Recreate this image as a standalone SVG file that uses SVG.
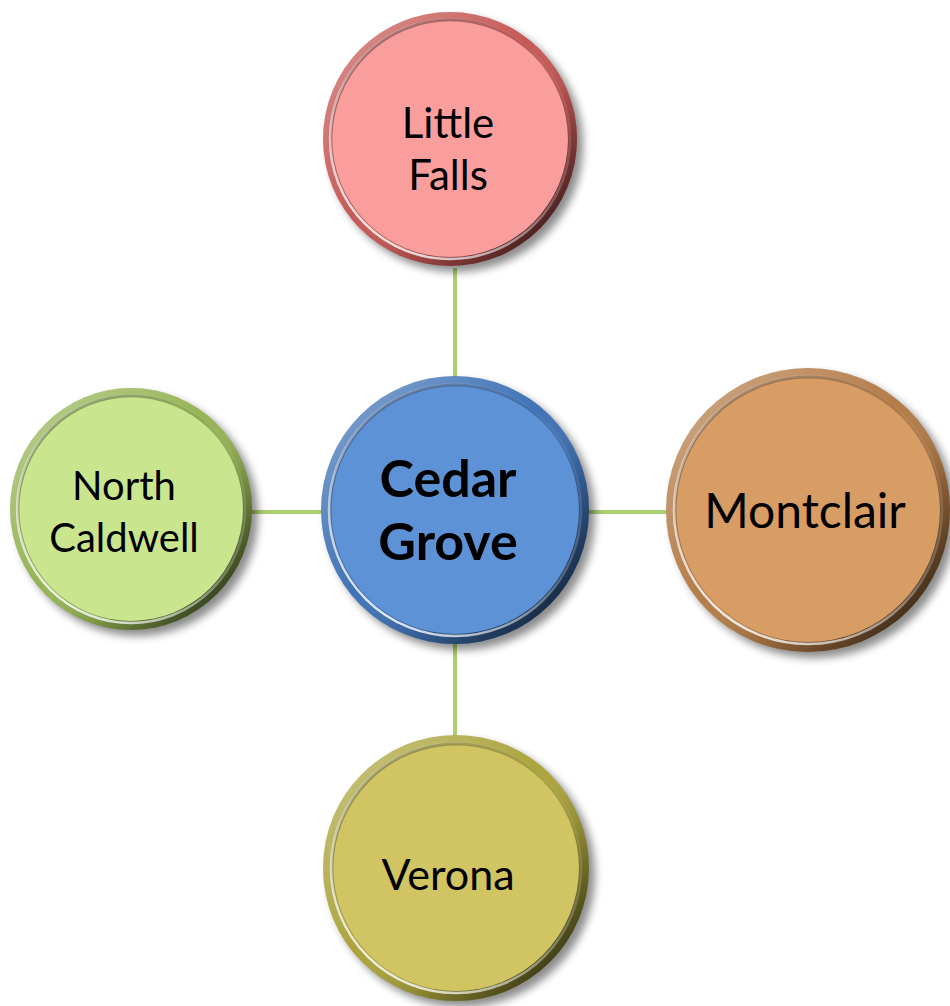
<svg xmlns="http://www.w3.org/2000/svg" width="950" height="1006" viewBox="0 0 950 1006">
  <style>
    .label { font-family: Lato, "Open Sans", "Liberation Sans", sans-serif; fill: #000; text-anchor: middle; }
    .bold { font-weight: bold; }
    .conn { stroke: #A9D16F; stroke-width: 4; fill: none; }
    .shadow { fill: #000; opacity: 0.45; }
    .hi { fill: none; stroke: url(#hiGrad); stroke-width: 2.5; }
    .innerEdge { fill: none; stroke: url(#edgeGrad); stroke-width: 3; }
  </style>
  <defs>
    <filter id="blur" x="-20%" y="-20%" width="140%" height="140%">
      <feGaussianBlur stdDeviation="4"/>
    </filter>
    <linearGradient id="rimShade" x1="0.15" y1="0.1" x2="0.9" y2="0.85">
      <stop offset="0" stop-color="#fff" stop-opacity="0.28"/>
      <stop offset="0.45" stop-color="#fff" stop-opacity="0"/>
      <stop offset="0.7" stop-color="#000" stop-opacity="0.15"/>
      <stop offset="1" stop-color="#000" stop-opacity="0.65"/>
    </linearGradient>
    <linearGradient id="hiGrad" x1="0.9" y1="0" x2="0.1" y2="1">
      <stop offset="0" stop-color="#fff" stop-opacity="0"/>
      <stop offset="0.45" stop-color="#fff" stop-opacity="0.25"/>
      <stop offset="1" stop-color="#fff" stop-opacity="0.95"/>
    </linearGradient>
    <linearGradient id="edgeGrad" x1="0" y1="0" x2="1" y2="1">
      <stop offset="0" stop-color="#000" stop-opacity="0.35"/>
      <stop offset="0.5" stop-color="#000" stop-opacity="0.05"/>
      <stop offset="1" stop-color="#000" stop-opacity="0"/>
    </linearGradient>
  </defs>

  <g id="connectors">
    <line class="conn" x1="455" y1="268" x2="455" y2="378"/>
    <line class="conn" x1="455" y1="642" x2="455" y2="737"/>
    <line class="conn" x1="248" y1="512" x2="325" y2="512"/>
    <line class="conn" x1="585" y1="512" x2="670" y2="512"/>
  </g>

  <g id="node-little-falls" transform="translate(450,139)">
    <circle class="shadow" cx="6" cy="6" r="127" filter="url(#blur)"/>
    <circle r="127" fill="#C65855"/>
    <circle r="127" fill="url(#rimShade)"/>
    <circle r="118" fill="#F99E9D"/>
    <circle r="119" class="innerEdge"/>
    <circle r="120" class="hi"/>
    <text class="label" x="-2" y="-1" font-size="42">Little</text>
    <text class="label" x="-2" y="51" font-size="42">Falls</text>
  </g>

  <g id="node-cedar-grove" transform="translate(455,510)">
    <circle class="shadow" cx="6" cy="6" r="134" filter="url(#blur)"/>
    <circle r="134" fill="#3F72B6"/>
    <circle r="134" fill="url(#rimShade)"/>
    <circle r="124" fill="#5E92D6"/>
    <circle r="125" class="innerEdge"/>
    <circle r="126" class="hi"/>
    <text class="label bold" x="-7" y="-13" font-size="52">Cedar</text>
    <text class="label bold" x="-7" y="50" font-size="52">Grove</text>
  </g>

  <g id="node-north-caldwell" transform="translate(131,509)">
    <circle class="shadow" cx="6" cy="6" r="121" filter="url(#blur)"/>
    <circle r="121" fill="#95B454"/>
    <circle r="121" fill="url(#rimShade)"/>
    <circle r="112" fill="#C9E68F"/>
    <circle r="113" class="innerEdge"/>
    <circle r="114" class="hi"/>
    <text class="label" x="-7" y="-9" font-size="40">North</text>
    <text class="label" x="-7" y="43" font-size="40">Caldwell</text>
  </g>

  <g id="node-montclair" transform="translate(808,510)">
    <circle class="shadow" cx="6" cy="6" r="142" filter="url(#blur)"/>
    <circle r="142" fill="#B47C47"/>
    <circle r="142" fill="url(#rimShade)"/>
    <circle r="132" fill="#D89C65"/>
    <circle r="133" class="innerEdge"/>
    <circle r="134" class="hi"/>
    <text class="label" x="-3" y="18" font-size="48">Montclair</text>
  </g>

  <g id="node-verona" transform="translate(456,868)">
    <circle class="shadow" cx="6" cy="6" r="133" filter="url(#blur)"/>
    <circle r="133" fill="#ABA43C"/>
    <circle r="133" fill="url(#rimShade)"/>
    <circle r="123" fill="#D0C463"/>
    <circle r="124" class="innerEdge"/>
    <circle r="125" class="hi"/>
    <text class="label" x="-8" y="22" font-size="43">Verona</text>
  </g>
</svg>
